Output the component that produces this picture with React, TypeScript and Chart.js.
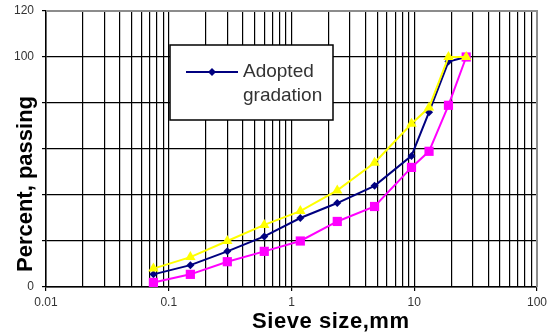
import React, { useEffect, useRef } from 'react';
import { Chart, registerables } from 'chart.js';

Chart.register(...registerables);

const sieveSizes = [0.075, 0.15, 0.3, 0.6, 1.18, 2.36, 4.75, 9.5, 13.2, 19, 26.5];
const upperLimit = [8, 13, 20, 27, 33, 42, 54, 71, 78, 100, 100];
const adoptedGradation = [5.5, 9.5, 15.5, 22, 30, 36.5, 44, 57, 76, 98, 100];
const lowerLimit = [2, 5.5, 11, 15.5, 20, 28.5, 35, 52, 59, 79, 100];
const xTickLabels = ['0.01', '0.1', '1', '10', '100'];
const yTickValues = [0, 20, 40, 60, 80, 100, 120];
const legendLines = ['Adopted', 'gradation'];
const xTitle = 'Sieve size,mm';
const yTitle = 'Percent, passing';

const W = 551;
const H = 334;

function toPoints(vals: number[]) {
  return sieveSizes.map((s, i) => ({ x: s, y: vals[i] }));
}

const overlayPlugin = {
  id: 'overlay',
  afterDraw(chart: any) {
    const { ctx, chartArea } = chart;
    const { left, right, top, bottom } = chartArea;
    ctx.save();
    // grey top / right frame
    ctx.strokeStyle = '#8c8c8c';
    ctx.lineWidth = 2;
    ctx.beginPath();
    ctx.moveTo(left, top);
    ctx.lineTo(right, top);
    ctx.lineTo(right, bottom);
    ctx.stroke();

    // y title (covers the tick labels it sits on, like the original)
    ctx.font = 'bold 22px Arial, "Liberation Sans", sans-serif';
    const yw = ctx.measureText(yTitle).width;
    const yCx = 26;
    const yCy = 184;
    ctx.translate(yCx, yCy);
    ctx.rotate(-Math.PI / 2);
    ctx.fillStyle = '#ffffff';
    ctx.fillRect(-yw / 2 - 2, -11, yw + 4, 21);
    ctx.fillStyle = '#000000';
    ctx.textAlign = 'center';
    ctx.textBaseline = 'middle';
    ctx.fillText(yTitle, 0, 0);
    ctx.setTransform(1, 0, 0, 1, 0, 0);

    // x title
    ctx.font = 'bold 22px Arial, "Liberation Sans", sans-serif';
    const targetW = 157;
    const xw = ctx.measureText(xTitle).width;
    const sp = (targetW - xw) / (xTitle.length - 1);
    (ctx as any).letterSpacing = sp.toFixed(2) + 'px';
    ctx.textAlign = 'left';
    ctx.textBaseline = 'alphabetic';
    ctx.fillStyle = '#000000';
    ctx.fillText(xTitle, 252, 328);
    (ctx as any).letterSpacing = '0px';

    // legend
    const bx = 170;
    const by = 45;
    const bw = 163;
    const bh = 75;
    ctx.fillStyle = '#ffffff';
    ctx.fillRect(bx, by, bw, bh);
    ctx.strokeStyle = '#000000';
    ctx.lineWidth = 1.5;
    ctx.strokeRect(bx, by, bw, bh);
    ctx.strokeStyle = '#000080';
    ctx.lineWidth = 2;
    ctx.beginPath();
    ctx.moveTo(bx + 16, by + 27);
    ctx.lineTo(bx + 68, by + 27);
    ctx.stroke();
    ctx.fillStyle = '#000080';
    ctx.beginPath();
    const dx = bx + 42, dy = by + 27, r = 4;
    ctx.moveTo(dx, dy - r);
    ctx.lineTo(dx + r, dy);
    ctx.lineTo(dx, dy + r);
    ctx.lineTo(dx - r, dy);
    ctx.closePath();
    ctx.fill();
    ctx.fillStyle = '#333333';
    ctx.font = '19px Arial, "Liberation Sans", sans-serif';
    ctx.textAlign = 'left';
    ctx.textBaseline = 'middle';
    ctx.fillText(legendLines[0], bx + 73, by + 27);
    ctx.fillText(legendLines[1], bx + 73, by + 51);
    ctx.restore();
  },
};

export default function App() {
  const ref = useRef<HTMLCanvasElement | null>(null);
  useEffect(() => {
    document.body.style.margin = '0';
    const canvas = ref.current;
    if (!canvas) return;
    const chart = new Chart(canvas, {
      type: 'line',
      data: {
        datasets: [
          {
            label: 'Upper limit',
            data: toPoints(upperLimit),
            borderColor: '#FFFF00',
            backgroundColor: '#FFFF00',
            borderWidth: 2,
            pointStyle: 'triangle',
            pointRadius: 6,
            pointBorderWidth: 0,
            tension: 0,
          },
          {
            label: 'Lower limit',
            data: toPoints(lowerLimit),
            borderColor: '#FF00FF',
            backgroundColor: '#FF00FF',
            borderWidth: 2,
            pointStyle: 'rect',
            pointRadius: 6.5,
            pointBorderWidth: 0,
            tension: 0,
          },
          {
            label: 'Adopted gradation',
            data: toPoints(adoptedGradation),
            borderColor: '#000080',
            backgroundColor: '#000080',
            borderWidth: 2,
            pointStyle: 'rectRot',
            pointRadius: 4,
            pointBorderWidth: 0,
            tension: 0,
          },
        ],
      },
      options: {
        animation: false,
        responsive: false,
        maintainAspectRatio: false,
        layout: { padding: { top: 11, right: 10, left: 0, bottom: 0 } },
        plugins: { legend: { display: false }, tooltip: { enabled: false } },
        scales: {
          x: {
            type: 'logarithmic',
            min: 0.01,
            max: 100,
            afterBuildTicks(scale: any) {
              const ticks: any[] = [];
              for (let d = -2; d <= 1; d++) {
                for (let m = 1; m <= 9; m++) {
                  ticks.push({ value: Number((m * Math.pow(10, d)).toPrecision(3)), major: m === 1 });
                }
              }
              ticks.push({ value: 100, major: true });
              scale.ticks = ticks;
            },
            afterFit(scale: any) {
              scale.height = 47;
            },
            ticks: {
              autoSkip: false,
              maxRotation: 0,
              minRotation: 0,
              padding: 4,
              color: '#333333',
              font: { family: 'Arial, "Liberation Sans", sans-serif', size: 12 },
              callback(value: any) {
                const s = String(Number(Number(value).toPrecision(3)));
                return xTickLabels.includes(s) ? s : '';
              },
            },
            grid: {
              color: '#000000',
              lineWidth: 1.2,
              tickLength: 4,
              tickColor: (c: any) => (c.tick && xTickLabels.includes(String(c.tick.value)) ? '#000000' : 'rgba(0,0,0,0)'),
            },
            border: { color: '#000000', width: 1.5 },
          },
          y: {
            type: 'linear',
            min: 0,
            max: 120,
            afterBuildTicks(scale: any) {
              scale.ticks = yTickValues.map((v) => ({ value: v }));
            },
            afterFit(scale: any) {
              scale.width = 46;
              scale.paddingTop = 0;
              scale.paddingBottom = 0;
            },
            ticks: {
              autoSkip: false,
              padding: 8,
              color: '#333333',
              font: { family: 'Arial, "Liberation Sans", sans-serif', size: 12 },
            },
            grid: { color: '#000000', lineWidth: 1.2, tickLength: 4 },
            border: { color: '#000000', width: 1.5 },
          },
        },
      },
      plugins: [overlayPlugin],
    } as any);
    return () => chart.destroy();
  }, []);
  return (
    <div style={{ width: W, height: H, position: 'relative', background: '#fff' }}>
      <canvas ref={ref} width={W} height={H} style={{ width: W, height: H, display: 'block' }} />
    </div>
  );
}
